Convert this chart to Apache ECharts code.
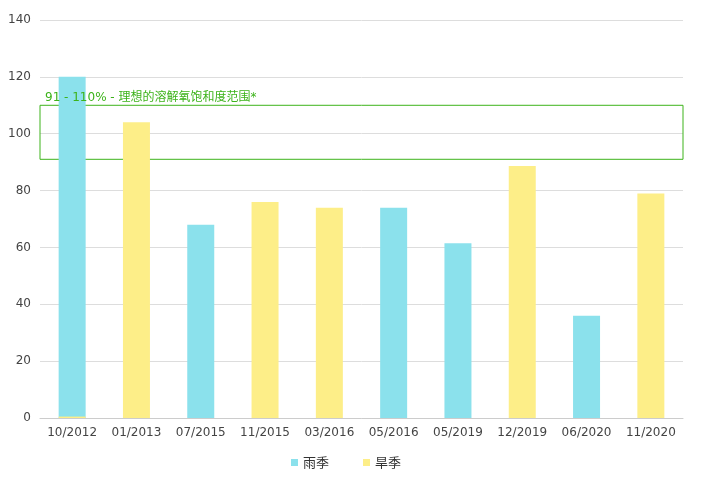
<!DOCTYPE html>
<html><head><meta charset="utf-8">
<script src="https://cdn.jsdelivr.net/npm/echarts@6/dist/echarts.min.js"></script>
<style>html,body{margin:0;padding:0;background:#fff}#c{width:702px;height:498px}</style>
</head><body><div id="c"></div>
<script>
const categories = ['10/2012','01/2013','07/2015','11/2015','03/2016','05/2016','05/2019','12/2019','06/2020','11/2020'];
const rainy = [120, null, 68, null, null, 74, 61.5, null, 36, null];
const dry = [0.5, 104, null, 76, 74, null, null, 88.6, null, 79];
const seriesNames = ['雨季', '旱季'];
const rangeLow = 91, rangeHigh = 110;
const rangeLabel = '91 - 110% - 理想的溶解氧饱和度范围*';
const yTicks = {min: 0, max: 140, interval: 20};

const chart = echarts.init(document.getElementById('c'));
chart.setOption({
  animation: false,
  textStyle: {fontFamily: 'DejaVu Sans, Noto Sans CJK SC, sans-serif'},
  grid: {left: 40, right: 19, top: 20, bottom: 80},
  legend: {
    bottom: 24, left: 286, itemWidth: 7, itemHeight: 7, icon: 'rect', itemGap: 34,
    textStyle: {fontSize: 13, color: '#333', fontFamily: 'Noto Sans CJK SC'},
    data: seriesNames
  },
  xAxis: {
    type: 'category', data: categories,
    axisTick: {show: false},
    axisLine: {lineStyle: {color: '#ccc'}},
    axisLabel: {color: '#444', fontSize: 12, margin: 9, interval: 0}
  },
  yAxis: {
    type: 'value', min: yTicks.min, max: yTicks.max, interval: yTicks.interval,
    axisLabel: {color: '#444', fontSize: 12, margin: 9},
    splitLine: {lineStyle: {color: '#ddd'}}
  },
  series: [
    {
      name: seriesNames[0], type: 'bar', data: rainy, barWidth: 27, barGap: '-100%',
      itemStyle: {color: '#8be1ec'},
      z: 3,
      markArea: {
        silent: true, z: 1,
        itemStyle: {color: 'rgba(0,0,0,0)', borderColor: '#3cb31a', borderWidth: 1},
        label: {show: false},
        data: [[{yAxis: rangeLow}, {yAxis: rangeHigh}]]
      }
    },
    {
      name: seriesNames[1], type: 'bar', data: dry, barWidth: 27,
      itemStyle: {color: '#fdee88'},
      z: 4,
      markArea: {
        silent: true, z: 10,
        itemStyle: {color: 'rgba(0,0,0,0)', borderWidth: 0},
        label: {show: true, position: 'insideTopLeft', offset: [0, -18], color: '#3cb31a', fontSize: 12, fontFamily: 'DejaVu Sans, Noto Sans CJK SC'},
        data: [[{yAxis: rangeLow, name: rangeLabel}, {yAxis: rangeHigh}]]
      }
    }
  ]
});
</script></body></html>
